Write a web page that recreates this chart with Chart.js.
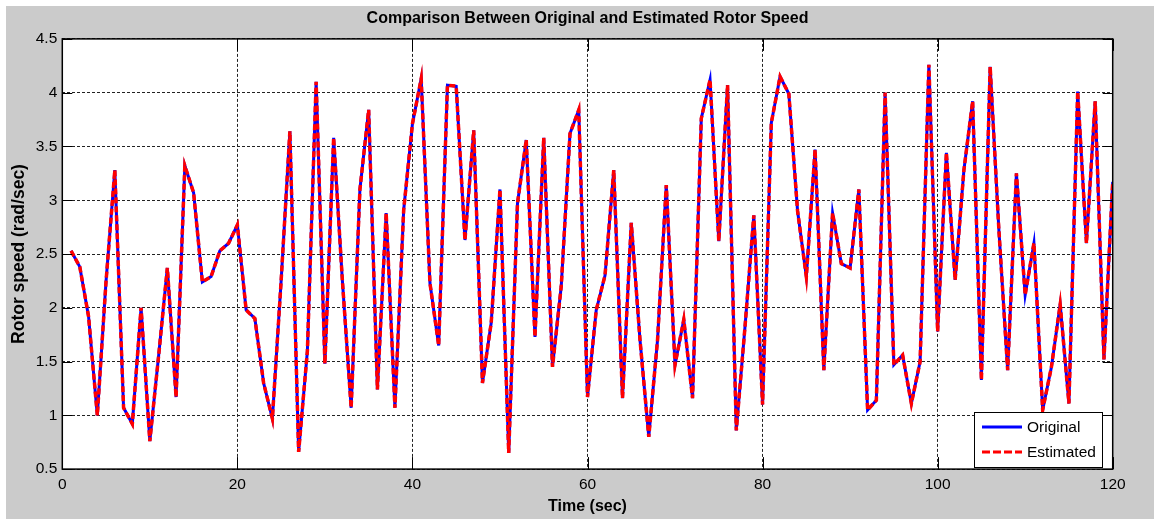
<!DOCTYPE html>
<html><head><meta charset="utf-8">
<script src="https://cdn.jsdelivr.net/npm/chart.js@4.4.1/dist/chart.umd.min.js"></script>
<style>html,body{margin:0;padding:0;background:#fff;}canvas{display:block;}</style>
</head><body>
<canvas id="c" width="1154" height="519"></canvas>
<script>
// ---- data ----
const timeSec = [1,2,3,4,5,6,7,8,9,10,11,12,13,14,15,16,17,18,19,20,21,22,23,24,25,26,27,28,29,30,31,32,33,34,35,36,37,38,39,40,41,42,43,44,45,46,47,48,49,50,51,52,53,54,55,56,57,58,59,60,61,62,63,64,65,66,67,68,69,70,71,72,73,74,75,76,77,78,79,80,81,82,83,84,85,86,87,88,89,90,91,92,93,94,95,96,97,98,99,100,101,102,103,104,105,106,107,108,109,110,111,112,113,114,115,116,117,118,119,120];
const originalSpeed = [2.53,2.38,1.92,1.00,2.25,3.28,1.07,0.92,2.00,0.76,1.55,2.37,1.17,3.32,3.07,2.24,2.29,2.53,2.60,2.77,1.98,1.90,1.30,0.97,2.25,3.64,0.66,1.60,4.10,1.48,3.58,2.25,1.07,3.10,3.84,1.24,2.88,1.07,2.91,3.71,4.13,2.23,1.65,4.07,4.06,2.63,3.65,1.30,1.86,3.10,0.65,2.97,3.56,1.73,3.58,1.45,2.20,3.62,3.84,1.17,1.98,2.30,3.28,1.16,2.79,1.70,0.80,1.70,3.14,1.47,1.89,1.16,3.76,4.12,2.62,4.07,0.86,1.83,2.86,1.10,3.72,4.15,3.99,2.90,2.29,3.47,1.42,2.88,2.41,2.37,3.10,1.05,1.14,4.00,1.47,1.56,1.11,1.50,4.26,1.78,3.44,2.26,3.28,3.92,1.33,4.24,2.72,1.42,3.25,2.12,2.60,1.05,1.45,2.03,1.11,4.01,2.60,3.92,1.52,3.17];
const estimatedSpeed = [2.53,2.38,1.92,1.00,2.25,3.28,1.07,0.92,2.00,0.76,1.55,2.37,1.17,3.32,3.07,2.24,2.29,2.53,2.60,2.77,1.98,1.90,1.30,0.97,2.25,3.64,0.66,1.60,4.10,1.48,3.58,2.25,1.07,3.10,3.84,1.24,2.88,1.07,2.91,3.71,4.13,2.23,1.65,4.07,4.06,2.63,3.65,1.30,1.86,3.10,0.65,2.97,3.56,1.73,3.58,1.45,2.20,3.62,3.84,1.17,1.98,2.30,3.28,1.16,2.79,1.70,0.80,1.70,3.14,1.47,1.89,1.16,3.76,4.12,2.62,4.07,0.86,1.83,2.86,1.10,3.72,4.15,3.99,2.90,2.29,3.47,1.42,2.88,2.41,2.37,3.10,1.05,1.14,4.00,1.47,1.56,1.11,1.50,4.26,1.78,3.44,2.26,3.28,3.92,1.33,4.24,2.72,1.42,3.25,2.12,2.60,1.05,1.45,2.03,1.11,4.01,2.60,3.92,1.52,3.17];
const xTickValues = [0,20,40,60,80,100,120];
const yTickValues = [0.5,1,1.5,2,2.5,3,3.5,4,4.5];
const seriesNames = ['Original','Estimated'];
const chartTitle = 'Comparison Between Original and Estimated Rotor Speed';
const xAxisTitle = 'Time (sec)';
const yAxisTitle = 'Rotor speed (rad/sec)';

// ---- styling ----
const FONT = "'Liberation Sans',Arial,sans-serif";
const BLUE = '#0000ff', RED = '#ff0000', FIG_BG = '#cbcbcb';

const matlabFrame = {
  id: 'matlabFrame',
  beforeDraw(chart) {
    const {ctx, chartArea: a} = chart;
    ctx.save();
    ctx.fillStyle = '#ffffff';
    ctx.fillRect(0, 0, chart.width, chart.height);
    ctx.fillStyle = FIG_BG;
    ctx.fillRect(6, 6, chart.width - 6, chart.height - 6);
    ctx.fillStyle = '#ffffff';
    ctx.fillRect(a.left, a.top, a.right - a.left, a.bottom - a.top);
    ctx.restore();
  },
  afterDraw(chart) {
    const {ctx, chartArea: a, scales} = chart;
    ctx.save();
    ctx.strokeStyle = '#000';
    ctx.lineWidth = 1;
    ctx.beginPath();
    xTickValues.forEach(v => {
      const px = Math.round(scales.x.getPixelForValue(v)) + 0.5;
      ctx.moveTo(px, a.bottom); ctx.lineTo(px, a.bottom - 12);
      ctx.moveTo(px, a.top); ctx.lineTo(px, a.top + 12);
    });
    yTickValues.forEach(v => {
      const py = Math.round(scales.y.getPixelForValue(v)) + 0.5;
      ctx.moveTo(a.left, py); ctx.lineTo(a.left + 10, py);
      ctx.moveTo(a.right, py); ctx.lineTo(a.right - 10, py);
    });
    ctx.stroke();
    ctx.lineWidth = 1.5;
    ctx.strokeRect(a.left, a.top, a.right - a.left, a.bottom - a.top);
    // legend
    const lx = 974.5, ly = 412.5, lw = 128, lh = 55;
    ctx.fillStyle = '#fff';
    ctx.fillRect(lx, ly, lw, lh);
    ctx.lineWidth = 1;
    ctx.strokeRect(lx, ly, lw, lh);
    const ds = chart.data.datasets;
    const rows = [ly + 14.5, ly + 39.5];
    ds.forEach((d, i) => {
      ctx.beginPath();
      ctx.strokeStyle = d.borderColor;
      ctx.lineWidth = 3;
      ctx.setLineDash(d.borderDash ? [8, 3] : []);
      ctx.moveTo(982, rows[i]); ctx.lineTo(1022, rows[i]);
      ctx.stroke();
      ctx.setLineDash([]);
      ctx.fillStyle = '#000';
      ctx.font = '15.5px ' + FONT;
      ctx.textBaseline = 'middle';
      ctx.textAlign = 'left';
      ctx.fillText(d.label, 1027, rows[i] + 1);
    });
    ctx.restore();
  }
};

new Chart(document.getElementById('c'), {
  type: 'line',
  data: {
    datasets: [
      { label: seriesNames[0], data: timeSec.map((t, i) => ({x: t, y: originalSpeed[i]})),
        borderColor: BLUE, borderWidth: 3, pointRadius: 0, tension: 0, fill: false, order: 2 },
      { label: seriesNames[1], data: timeSec.map((t, i) => ({x: t, y: estimatedSpeed[i]})),
        borderColor: RED, borderWidth: 3.5, borderDash: [6, 3], pointRadius: 0, tension: 0, fill: false, order: 1 }
    ]
  },
  options: {
    responsive: false,
    animation: false,
    layout: { padding: { left: 0, top: 0, right: 41.3, bottom: 0 } },
    plugins: {
      legend: { display: false },
      tooltip: { enabled: false },
      title: { display: true, text: chartTitle, fullSize: false, color: '#000',
        font: { family: FONT, size: 16, weight: 'bold', lineHeight: 1.2 },
        padding: { top: 9, bottom: 10.7 } }
    },
    scales: {
      x: {
        type: 'linear', min: 0, max: 120,
        afterBuildTicks: s => { s.ticks = xTickValues.map(v => ({value: v})); },
        afterFit: s => { s.height = 49.9; },
        ticks: { color: '#000', font: { family: FONT, size: 15.5, lineHeight: 1.2 }, padding: 6, maxRotation: 0,
          callback: v => String(v) },
        grid: { drawTicks: false, color: '#222', lineWidth: 1 },
        border: { display: false, dash: [3, 2] },
        title: { display: true, text: xAxisTitle, color: '#000',
          font: { family: FONT, size: 16, weight: 'bold', lineHeight: 1.2 }, padding: { top: 0, bottom: 2.5 } }
      },
      y: {
        type: 'linear', min: 0.5, max: 4.5,
        afterBuildTicks: s => { s.ticks = yTickValues.map(v => ({value: v})); },
        afterFit: s => { s.width = 62.3; },
        ticks: { color: '#000', font: { family: FONT, size: 15.5, lineHeight: 1.2 }, padding: 5,
          callback: v => String(v) },
        grid: { drawTicks: false, color: '#222', lineWidth: 1 },
        border: { display: false, dash: [3, 2] },
        title: { display: true, text: yAxisTitle, color: '#000',
          font: { family: FONT, size: 17.5, weight: 'bold', lineHeight: 1.2 }, padding: { top: 9, bottom: 0 } }
      }
    }
  },
  plugins: [matlabFrame]
});
</script>
</body></html>
